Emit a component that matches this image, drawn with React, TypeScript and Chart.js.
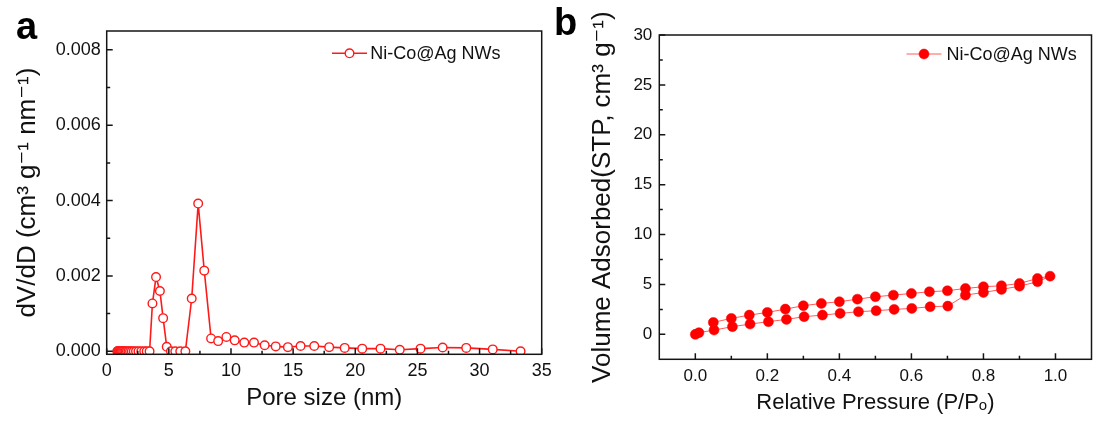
import React, { useEffect, useRef } from "react";
import { Chart, registerables } from "chart.js";
Chart.register(...registerables);

// ---------- Panel a: pore size distribution ----------
const poreSize = [
  0.85, 0.9, 0.95, 1.0, 1.06, 1.12, 1.18, 1.25, 1.33, 1.42, 1.52, 1.63, 1.75, 1.88, 2.02, 2.18,
  2.36, 2.56, 2.78, 3.02, 3.22, 3.45, 3.68, 3.97, 4.28, 4.54, 4.83, 5.17, 5.52, 5.92, 6.33, 6.84,
  7.36, 7.85, 8.4, 8.97, 9.63, 10.3, 11.07, 11.85, 12.71, 13.6, 14.58, 15.6, 16.7, 17.9, 19.15,
  20.56, 22.03, 23.58, 25.25, 27.03, 28.93, 31.06, 33.3,
];
const dVdD = [
  0, 0, 0, 0, 0, 0, 0, 0, 0, 0, 0, 0, 0, 0, 0, 0,
  0, 0, 0, 0, 0, 0, 0.00127, 0.00197, 0.0016, 0.00088, 0.00012, 0, 0, 0, 0, 0.0014,
  0.00392, 0.00214, 0.00034, 0.00027, 0.00038, 0.00029, 0.00023, 0.00023, 0.00016, 0.00013,
  0.00011, 0.00014, 0.00014, 0.00011, 0.00009, 0.00007, 0.00007, 0.00004, 0.00007, 0.0001,
  0.00009, 0.00005, 0.0,
];
const xTicksA = [0, 5, 10, 15, 20, 25, 30, 35];
const xMinorA = [2.5, 7.5, 12.5, 17.5, 22.5, 27.5, 32.5];
const yTicksA = [0, 0.002, 0.004, 0.006, 0.008];
const yMinorA = [0.001, 0.003, 0.005, 0.007];

// ---------- Panel b: N2 isotherm ----------
const adsP = [0.0, 0.01, 0.052, 0.103, 0.152, 0.203, 0.253, 0.302, 0.353, 0.402, 0.453, 0.502, 0.552, 0.601, 0.652, 0.701, 0.75, 0.8, 0.85, 0.9, 0.95, 0.985];
const adsV = [0.0, 0.17, 0.43, 0.77, 1.03, 1.27, 1.5, 1.77, 1.93, 2.1, 2.27, 2.37, 2.5, 2.6, 2.77, 2.83, 3.93, 4.2, 4.5, 4.83, 5.27, 5.83];
const desP = [0.95, 0.9, 0.85, 0.8, 0.75, 0.7, 0.65, 0.6, 0.55, 0.5, 0.45, 0.4, 0.35, 0.3, 0.25, 0.2, 0.15, 0.1, 0.05];
const desV = [5.6, 5.1, 4.87, 4.77, 4.6, 4.37, 4.27, 4.1, 3.93, 3.77, 3.53, 3.27, 3.1, 2.87, 2.53, 2.2, 1.93, 1.6, 1.2];
const xTicksB = [0, 0.2, 0.4, 0.6, 0.8, 1.0];
const xMinorB = [0.1, 0.3, 0.5, 0.7, 0.9];
const yTicksB = [0, 5, 10, 15, 20, 25, 30];
const yMinorB = [2.5, 7.5, 12.5, 17.5, 22.5, 27.5];

const seriesLabel = "Ni-Co@Ag NWs";
const FONT = "'Liberation Sans', Arial, 'DejaVu Sans', sans-serif";
const RED = "#ff1a1a";

const framePlugin = {
  id: "frameTicks",
  afterDraw(chart: any, _args: any, opts: any) {
    const { ctx, chartArea } = chart;
    const { left, right, top, bottom } = chartArea;
    const xs = chart.scales.x;
    const ys = chart.scales.y;
    ctx.save();
    ctx.strokeStyle = "#151515";
    ctx.lineWidth = 1.5;
    ctx.beginPath();
    const line = (x1: number, y1: number, x2: number, y2: number) => {
      ctx.moveTo(x1, y1);
      ctx.lineTo(x2, y2);
    };
    (opts.xMajor || []).forEach((v: number) => { const p = xs.getPixelForValue(v); line(p, bottom, p, bottom - 6); });
    (opts.xMinor || []).forEach((v: number) => { const p = xs.getPixelForValue(v); line(p, bottom, p, bottom - 3.5); });
    (opts.yMajor || []).forEach((v: number) => { const p = ys.getPixelForValue(v); line(left, p, left + 6, p); });
    (opts.yMinor || []).forEach((v: number) => { const p = ys.getPixelForValue(v); line(left, p, left + 3.5, p); });
    ctx.stroke();
    ctx.strokeRect(left, top, right - left, bottom - top);
    // legend
    const lg = opts.legend;
    if (lg) {
      const ds = chart.data.datasets[0];
      const y = top + lg.dy;
      const x1 = right + lg.x1;
      const x2 = right + lg.x2;
      ctx.beginPath();
      ctx.strokeStyle = ds.borderColor;
      ctx.lineWidth = ds.borderWidth;
      ctx.moveTo(x1, y);
      ctx.lineTo(x2, y);
      ctx.stroke();
      const cx = (x1 + x2) / 2;
      ctx.beginPath();
      ctx.arc(cx, y, ds.pointRadius, 0, Math.PI * 2);
      ctx.fillStyle = ds.pointBackgroundColor;
      ctx.fill();
      ctx.lineWidth = ds.pointBorderWidth;
      ctx.strokeStyle = ds.pointBorderColor;
      ctx.stroke();
      ctx.fillStyle = "#111";
      ctx.font = `${lg.size}px ${FONT}`;
      ctx.textBaseline = "middle";
      ctx.textAlign = "left";
      ctx.fillText(ds.label, right + lg.tx, y + 1);
    }
    ctx.restore();
  },
};

function makeOptions(cfg: any) {
  return {
    animation: false,
    responsive: false,
    devicePixelRatio: 1,
    layout: { padding: cfg.padding },
    plugins: {
      legend: { display: false },
      tooltip: { enabled: false },
      frameTicks: cfg.frame,
    },
    scales: {
      x: {
        type: "linear",
        min: cfg.xMin,
        max: cfg.xMax,
        grid: { display: false, drawTicks: false },
        border: { display: false },
        afterBuildTicks: (s: any) => { s.ticks = cfg.xTicks.map((v: number) => ({ value: v })); },
        afterFit: (s: any) => { s.height = cfg.xHeight; },
        ticks: {
          color: "#111",
          padding: cfg.xPad,
          maxRotation: 0,
          autoSkip: false,
          font: { family: FONT, size: cfg.tickSize },
          callback: cfg.xFmt,
        },
        title: {
          display: true,
          text: cfg.xTitle,
          color: "#111",
          font: { family: FONT, size: cfg.xTitleSize, lineHeight: 1 },
          padding: { top: 0, bottom: cfg.xTitlePad },
        },
      },
      y: {
        type: "linear",
        min: cfg.yMin,
        max: cfg.yMax,
        grid: { display: false, drawTicks: false },
        border: { display: false },
        afterBuildTicks: (s: any) => { s.ticks = cfg.yTicks.map((v: number) => ({ value: v })); },
        afterFit: (s: any) => { s.width = cfg.yWidth; },
        ticks: {
          color: "#111",
          padding: cfg.yPad,
          autoSkip: false,
          font: { family: FONT, size: cfg.tickSize },
          callback: cfg.yFmt,
        },
        title: {
          display: true,
          text: cfg.yTitle,
          color: "#111",
          font: { family: FONT, size: cfg.yTitleSize, lineHeight: 1 },
          padding: { top: cfg.yTitlePad, bottom: 0 },
        },
      },
    },
  };
}

function PanelA() {
  const ref = useRef<HTMLCanvasElement>(null);
  useEffect(() => {
    const chart = new Chart(ref.current!, {
      type: "scatter",
      data: {
        datasets: [
          {
            label: seriesLabel,
            data: poreSize.map((x, i) => ({ x, y: dVdD[i] })),
            showLine: true,
            borderColor: RED,
            borderWidth: 1.6,
            pointRadius: 4.3,
            pointBorderWidth: 1.4,
            pointBorderColor: RED,
            pointBackgroundColor: "#ffffff",
            tension: 0,
          },
        ],
      },
      options: makeOptions({
        padding: { left: 0, right: 18.3, top: 31, bottom: 0 },
        xMin: 0, xMax: 35, yMin: -0.00008, yMax: 0.0085,
        xTicks: xTicksA, yTicks: yTicksA,
        xHeight: 421 - 354.3, yWidth: 106.7,
        xPad: 6, yPad: 6, tickSize: 18,
        xFmt: (v: number) => String(v),
        yFmt: (v: number) => Number(v).toFixed(3),
        xTitle: "Pore size (nm)", xTitleSize: 24, xTitlePad: 11,
        yTitle: "dV/dD (cm³ g⁻¹ nm⁻¹)", yTitleSize: 26, yTitlePad: 15,
        frame: {
          xMajor: xTicksA, xMinor: xMinorA, yMajor: yTicksA, yMinor: yMinorA,
          legend: { x1: -209.7, x2: -174.7, tx: -171.5, dy: 22.3, size: 18 },
        },
      }) as any,
      plugins: [framePlugin],
    });
    return () => chart.destroy();
  }, []);
  return <canvas ref={ref} width={560} height={421} style={{ position: "absolute", left: 0, top: 0 }} />;
}

function PanelB() {
  const ref = useRef<HTMLCanvasElement>(null);
  useEffect(() => {
    const pts = [
      ...adsP.map((x, i) => ({ x, y: adsV[i] })),
      ...desP.map((x, i) => ({ x, y: desV[i] })),
    ];
    const chart = new Chart(ref.current!, {
      type: "scatter",
      data: {
        datasets: [
          {
            label: seriesLabel,
            data: pts,
            showLine: true,
            borderColor: "#ff5a5a",
            borderWidth: 1,
            pointRadius: 5,
            pointBorderWidth: 0.5,
            pointBorderColor: "#ff0000",
            pointBackgroundColor: "#ff0000",
            tension: 0,
          },
        ],
      },
      options: makeOptions({
        padding: { left: 0, right: 5.3, top: 35, bottom: 0 },
        xMin: -0.1, xMax: 1.1, yMin: -2.5, yMax: 30,
        xTicks: xTicksB, yTicks: yTicksB,
        xHeight: 421 - 359.3, yWidth: 99.3,
        xPad: 7, yPad: 7, tickSize: 17,
        xFmt: (v: number) => Number(v).toFixed(1),
        yFmt: (v: number) => String(v),
        xTitle: "Relative Pressure (P/Pₒ)", xTitleSize: 22, xTitlePad: 7,
        yTitle: "Volume Adsorbed(STP, cm³ g⁻¹)", yTitleSize: 26, yTitlePad: 30,
        frame: {
          xMajor: xTicksB, xMinor: xMinorB, yMajor: yTicksB, yMinor: yMinorB,
          legend: { x1: -185, x2: -150, tx: -145, dy: 19, size: 18 },
        },
      }) as any,
      plugins: [framePlugin],
    });
    return () => chart.destroy();
  }, []);
  return <canvas ref={ref} width={537} height={421} style={{ position: "absolute", left: 560, top: 0 }} />;
}

export default function App() {
  const letter: React.CSSProperties = {
    position: "absolute",
    fontFamily: FONT,
    fontWeight: "bold",
    fontSize: 38,
    lineHeight: "38px",
    color: "#000",
  };
  return (
    <div style={{ position: "fixed", left: 0, top: 0, width: 1097, height: 421, background: "#fff", overflow: "hidden" }}>
      <PanelA />
      <PanelB />
      <div style={{ ...letter, left: 16, top: 7 }}>a</div>
      <div style={{ ...letter, left: 554, top: 3 }}>b</div>
    </div>
  );
}
